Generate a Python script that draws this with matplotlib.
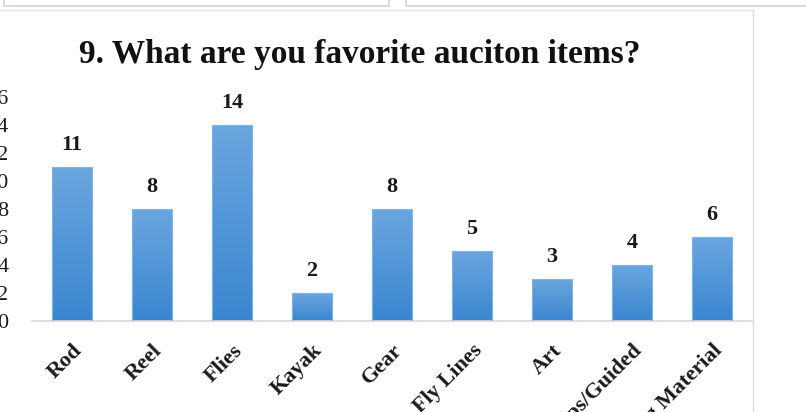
import numpy as np
import matplotlib
matplotlib.use("Agg")
from matplotlib import pyplot as plt
from matplotlib.patches import Rectangle
from matplotlib.lines import Line2D

categories = ["Rod", "Reel", "Flies", "Kayak", "Gear", "Fly Lines", "Art",
              "Trips/Guided", "Fly Tying Material"]
counts = [11, 8, 14, 2, 8, 5, 3, 4, 6]
yticks = [0, 2, 4, 6, 8, 10, 12, 14, 16]
title = "9. What are you favorite auciton items?"

W, H = 806, 412
plt.rcParams['font.family'] = ['Liberation Serif', 'DejaVu Serif']

fig = plt.figure(figsize=(W / 100, H / 100), dpi=100)
fig.patch.set_facecolor("white")

# bits of the neighbouring screenshot boxes at the top
fig.patches.append(Rectangle((4 / W, 1 - 6 / H), 385 / W, 10 / H, transform=fig.transFigure,
                             facecolor="white", edgecolor="#cfd3d8", lw=1.2))
fig.patches.append(Rectangle((406 / W, 1 - 6 / H), 420 / W, 10 / H, transform=fig.transFigure,
                             facecolor="white", edgecolor="#cfd3d8", lw=1.2))
# chart area border (top + right)
fig.lines.append(Line2D([0, 753 / W], [1 - 10 / H, 1 - 10 / H], transform=fig.transFigure,
                        color="#e6e6e6", lw=1))
fig.lines.append(Line2D([753 / W, 753 / W], [0, 1 - 10 / H], transform=fig.transFigure,
                        color="#dcdcdc", lw=1))

ax = fig.add_axes([32 / W, (H - 321) / H, 720 / W, 224 / H])
x = np.arange(len(categories))

# vertical gradient per bar, light at top
grad = np.linspace(0, 1, 256).reshape(-1, 1)
cmap = matplotlib.colors.LinearSegmentedColormap.from_list("b", ["#3a86d0", "#6aa6df"])
bar_w = 0.5
for xi, v in zip(x, counts):
    ax.imshow(grad, extent=(xi - bar_w / 2, xi + bar_w / 2, 0, v), origin="lower",
              aspect="auto", cmap=cmap, zorder=2)
    ax.add_patch(Rectangle((xi - bar_w / 2, 0), bar_w, v, facecolor="none",
                           edgecolor="#7fb3e3", lw=0.8, zorder=3))
    ax.annotate(str(v), (xi, v), xytext=(0, 9), textcoords="offset points",
                ha="center", va="bottom", fontsize=16, fontweight="bold", color="#1a1a1a")

ax.set_xlim(-0.5, len(categories) - 0.5)
ax.set_ylim(0, 16)
ax.set_yticks(yticks)
ax.tick_params(axis="y", length=0, pad=17, labelsize=16, labelcolor="#1a1a1a")
ax.set_xticks(x)
ax.set_xticklabels(categories, rotation=45, ha="right", va="top", rotation_mode="anchor",
                   fontsize=16, fontweight="bold", color="#1a1a1a")
ax.tick_params(axis="x", length=0, pad=14)
for s in ["top", "right", "left"]:
    ax.spines[s].set_visible(False)
ax.spines["bottom"].set_color("#d9d9d9")
ax.spines["bottom"].set_linewidth(1.2)

fig.text(360 / W, 1 - 55 / H, title, ha="center", va="center", fontsize=24,
         fontweight="bold", color="#111111")

fig.savefig("out.png", dpi=100)
